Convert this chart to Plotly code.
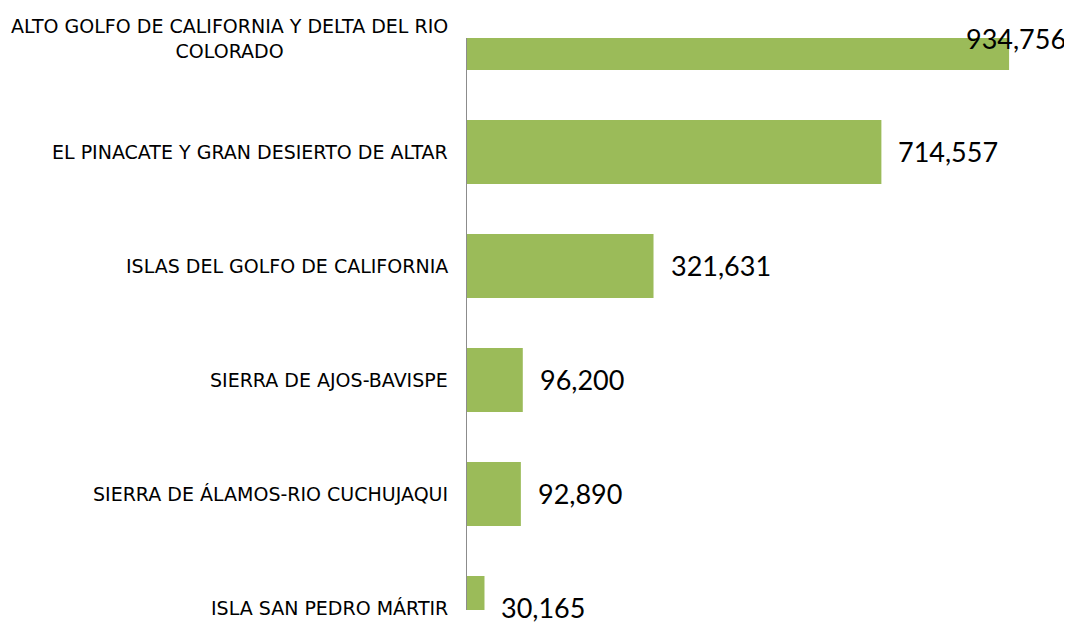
import plotly.graph_objects as go

categories = [
    "ALTO GOLFO DE CALIFORNIA Y DELTA DEL RIO<br>COLORADO",
    "EL PINACATE Y GRAN DESIERTO DE ALTAR",
    "ISLAS DEL GOLFO DE CALIFORNIA",
    "SIERRA DE AJOS-BAVISPE",
    "SIERRA DE ÁLAMOS-RIO CUCHUJAQUI",
    "ISLA SAN PEDRO MÁRTIR",
]
values = [934756, 714557, 321631, 96200, 92890, 30165]
value_labels = ["934,756", "714,557", "321,631", "96,200", "92,890", "30,165"]

idx = list(range(len(categories)))

fig = go.Figure()
fig.add_trace(go.Bar(
    x=values, y=idx, orientation="h",
    marker=dict(color="#9BBB59", line=dict(width=0)),
    width=0.56, hoverinfo="skip",
))

annotations = []
for i, (c, v, t) in enumerate(zip(categories, values, value_labels)):
    annotations.append(dict(
        xref="paper", yref="y", x=0, y=i, text=c, showarrow=False,
        xanchor="right", yanchor="middle", align="center", xshift=-17,
        font=dict(family="DejaVu Sans", size=19, color="#000000"),
    ))
    if i == 0:
        annotations.append(dict(
            xref="x", yref="y", x=v, y=i, text=t, showarrow=False,
            xanchor="right", yanchor="middle", xshift=59,
            font=dict(family="Lato", size=27, color="#000000"),
        ))
    else:
        annotations.append(dict(
            xref="x", yref="y", x=v, y=i, text=t, showarrow=False,
            xanchor="left", yanchor="middle", xshift=15,
            font=dict(family="Lato", size=27, color="#000000"),
        ))

fig.update_layout(
    width=1064, height=616,
    margin=dict(l=459, r=10, t=30, b=14),
    plot_bgcolor="white", paper_bgcolor="white",
    showlegend=False,
    xaxis=dict(range=[0, 1026000], visible=False, showgrid=False, zeroline=False),
    yaxis=dict(range=[5.018, 0], showticklabels=False, showgrid=False, zeroline=False,
               showline=True, linecolor="#8c8c8c", linewidth=1, ticks=""),
    annotations=annotations,
)

fig.write_html("out.html")
